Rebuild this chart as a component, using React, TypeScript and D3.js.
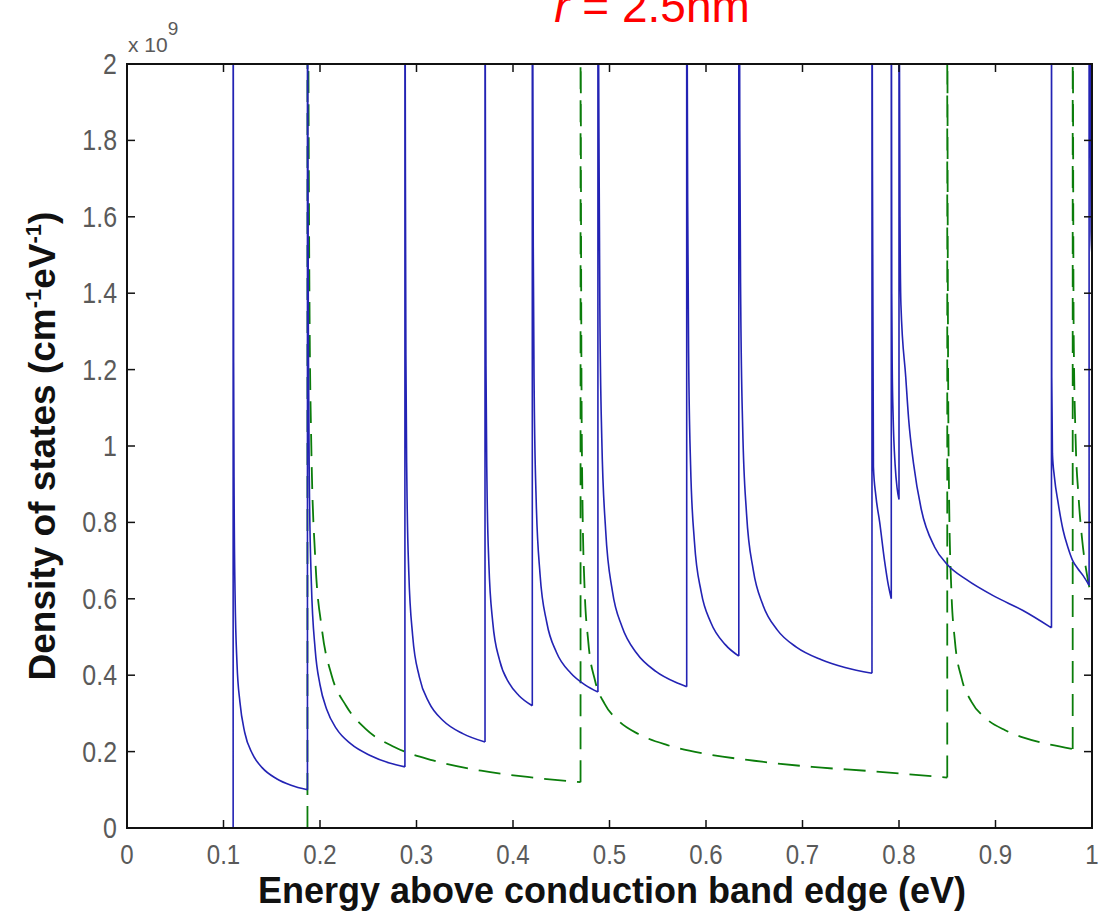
import React from "react";
import * as d3 from "d3";

// ---------- data ----------
const energyTicks = [0, 0.1, 0.2, 0.3, 0.4, 0.5, 0.6, 0.7, 0.8, 0.9, 1];
const energyTickLabels = ["0", "0.1", "0.2", "0.3", "0.4", "0.5", "0.6", "0.7", "0.8", "0.9", "1"];
const dosTicks = [0, 0.2, 0.4, 0.6, 0.8, 1, 1.2, 1.4, 1.6, 1.8, 2];
const dosTickLabels = ["0", "0.2", "0.4", "0.6", "0.8", "1", "1.2", "1.4", "1.6", "1.8", "2"];

// blue solid series (units of 1e9): flat part, then one list per subband (first point = band edge peak)
const blueFlat: [number, number][] = [[0, 0], [0.11, 0]];
const blueSub1: [number, number][] = [[0.11, 2.5], [0.1102, 1.9], [0.1105, 1.22], [0.111, 0.87], [0.112, 0.61], [0.114, 0.43], [0.117, 0.33], [0.122, 0.25], [0.13, 0.194], [0.14, 0.158], [0.155, 0.129], [0.17, 0.112], [0.187, 0.1]];
const blueSub2: [number, number][] = [[0.187, 2.5], [0.1875, 1.75], [0.188, 1.25], [0.189, 0.895], [0.191, 0.645], [0.195, 0.467], [0.2, 0.375], [0.207, 0.31], [0.217, 0.26], [0.232, 0.22], [0.252, 0.19], [0.272, 0.17], [0.288, 0.16]];
const blueSub3: [number, number][] = [[0.288, 2.5], [0.2885, 1.72], [0.289, 1.24], [0.29, 0.91], [0.292, 0.67], [0.296, 0.504], [0.303, 0.395], [0.313, 0.328], [0.328, 0.28], [0.348, 0.247], [0.371, 0.225]];
const blueSub4: [number, number][] = [[0.371, 2.5], [0.3715, 1.64], [0.372, 1.21], [0.373, 0.907], [0.375, 0.691], [0.379, 0.539], [0.386, 0.44], [0.396, 0.379], [0.406, 0.347], [0.42, 0.32]];
const blueSub5: [number, number][] = [[0.42, 2.5], [0.4205, 2.07], [0.421, 1.52], [0.422, 1.13], [0.424, 0.86], [0.428, 0.665], [0.435, 0.538], [0.445, 0.46], [0.46, 0.405], [0.475, 0.374], [0.488, 0.356]];
const blueSub6: [number, number][] = [[0.488, 2.5], [0.489, 1.84], [0.49, 1.36], [0.492, 1.02], [0.496, 0.78], [0.503, 0.62], [0.513, 0.527], [0.528, 0.458], [0.548, 0.41], [0.568, 0.382], [0.58, 0.37]];
const blueSub7: [number, number][] = [[0.58, 2.5], [0.581, 1.64], [0.582, 1.24], [0.584, 0.952], [0.588, 0.75], [0.595, 0.618], [0.605, 0.538], [0.62, 0.48], [0.634, 0.45]];
const blueSub8: [number, number][] = [[0.634, 2.5], [0.6345, 2.48], [0.635, 1.83], [0.636, 1.37], [0.638, 1.05], [0.642, 0.823], [0.649, 0.675], [0.659, 0.584], [0.674, 0.518], [0.694, 0.473], [0.719, 0.441], [0.744, 0.42], [0.772, 0.405]];
const blueSub9: [number, number][] = [[0.772, 2.5], [0.7725, 1.72], [0.7735, 0.945], [0.776, 0.87], [0.78, 0.8], [0.785, 0.7], [0.789, 0.635], [0.792, 0.6]];
const blueSub10: [number, number][] = [[0.792, 2.5], [0.7925, 1.4], [0.793, 1.2], [0.794, 1.07], [0.796, 0.95], [0.798, 0.89], [0.8, 0.86]];
const blueSub11: [number, number][] = [[0.8, 2.5], [0.8005, 2.0], [0.801, 1.6], [0.802, 1.37], [0.807, 1.18], [0.81, 1.07], [0.815, 0.955], [0.823, 0.835], [0.837, 0.735], [0.85, 0.69], [0.87, 0.65], [0.9, 0.605], [0.928, 0.57], [0.958, 0.524]];
const blueSub12: [number, number][] = [[0.958, 2.5], [0.9583, 1.18], [0.959, 0.98], [0.961, 0.92], [0.965, 0.85], [0.97, 0.78], [0.975, 0.735], [0.98, 0.7], [0.985, 0.68], [0.991, 0.66], [0.997, 0.635]];
const blueSub13: [number, number][] = [[0.997, 2.5], [0.9985, 1.9], [0.999, 1.56], [1.0, 1.5]];
const blueSubbands = [blueSub1, blueSub2, blueSub3, blueSub4, blueSub5, blueSub6, blueSub7, blueSub8, blueSub9, blueSub10, blueSub11, blueSub12, blueSub13];

// green dashed series
const greenFlat: [number, number][] = [[0, 0], [0.187, 0]];
const greenSub1: [number, number][] = [[0.187, 2.5], [0.1875, 2.4], [0.188, 2.01], [0.189, 1.42], [0.191, 1.0], [0.195, 0.71], [0.202, 0.52], [0.212, 0.4], [0.227, 0.32], [0.247, 0.26], [0.277, 0.212], [0.317, 0.177], [0.367, 0.15], [0.417, 0.133], [0.47, 0.12]];
const greenSub2: [number, number][] = [[0.47, 2.5], [0.4705, 1.6], [0.471, 1.16], [0.472, 0.857], [0.474, 0.64], [0.478, 0.488], [0.485, 0.386], [0.495, 0.325], [0.51, 0.279], [0.53, 0.246], [0.56, 0.217], [0.6, 0.194], [0.65, 0.176], [0.71, 0.16], [0.77, 0.149], [0.85, 0.132]];
const greenSub3: [number, number][] = [[0.85, 2.5], [0.8505, 1.56], [0.851, 1.14], [0.852, 0.85], [0.854, 0.64], [0.858, 0.488], [0.865, 0.391], [0.875, 0.331], [0.89, 0.287], [0.91, 0.256], [0.93, 0.236], [0.95, 0.222], [0.98, 0.207]];
const greenSub4: [number, number][] = [[0.98, 2.5], [0.981, 1.3], [0.983, 1.02], [0.986, 0.87], [0.99, 0.75], [0.995, 0.66], [1.0, 0.6]];
const greenSubbands = [greenSub1, greenSub2, greenSub3, greenSub4];

// ---------- chart ----------
const W = 1101;
const H = 913;
const L = 127, R = 1092, T = 64, B = 828;

export default function App() {
  const x = d3.scaleLinear().domain([0, 1]).range([L, R]);
  const y = d3.scaleLinear().domain([0, 2]).range([B, T]);

  const straight = d3.line<[number, number]>().x((d) => x(d[0])).y((d) => y(d[1]));
  const smooth = d3
    .line<[number, number]>()
    .x((d) => x(d[0]))
    .y((d) => y(d[1]))
    .curve(d3.curveMonotoneX);

  const buildPath = (flat: [number, number][], subs: [number, number][][]) => {
    let d = straight(flat) || "";
    let prev = flat[flat.length - 1][1];
    subs.forEach((s) => {
      const edge = s[0];
      d += straight([[edge[0], prev], [edge[0], edge[1]]]) || "";
      d += smooth(s) || "";
      prev = s[s.length - 1][1];
    });
    return d;
  };

  const bluePath = buildPath(blueFlat, blueSubbands);
  const greenPath = buildPath(greenFlat, greenSubbands);

  const tickFont = "'Liberation Sans', Arial, Helvetica, sans-serif";
  const boldFont = "'Liberation Sans', Arial, Helvetica, sans-serif";
  const tickLen = 8;
  const tickColor = "#5a5a5a";

  return (
    <svg width={W} height={H} style={{ position: "absolute", left: 0, top: 0, background: "#fff" }}>
      <defs>
        <clipPath id="plotclip">
          <rect x={L} y={T} width={R - L} height={B - T} />
        </clipPath>
      </defs>
      <rect x={0} y={0} width={W} height={H} fill="#fff" />

      {/* title (cut at the top edge, as in the reference) */}
      <text x={652} y={22} textAnchor="middle" fill="#ff0000" fontFamily={boldFont} fontSize={46}>
        <tspan fontStyle="italic">r</tspan>
        <tspan> = 2.5nm</tspan>
      </text>

      {/* exponent */}
      <text x={128} y={52} fill={tickColor} fontFamily={tickFont} fontSize={21}>
        x 10
        <tspan dy={-17} fontSize={19}>9</tspan>
      </text>

      {/* curves */}
      <g clipPath="url(#plotclip)">
        <path d={greenPath} fill="none" stroke="#0b7d0b" strokeWidth={1.8} strokeDasharray="22,11" />
        <path d={bluePath} fill="none" stroke="#2323b4" strokeWidth={1.6} />
      </g>

      {/* axes box */}
      <rect x={L} y={T} width={R - L} height={B - T} fill="none" stroke="#111" strokeWidth={2} />

      {/* x ticks */}
      {energyTicks.map((t, i) => (
        <g key={"xt" + i}>
          <line x1={x(t)} x2={x(t)} y1={B} y2={B - tickLen} stroke="#111" strokeWidth={1.5} />
          <line x1={x(t)} x2={x(t)} y1={T} y2={T + tickLen} stroke="#111" strokeWidth={1.5} />
          <text
            transform={`translate(${x(t)}, 864) scale(0.86, 1)`}
            textAnchor="middle"
            fill={tickColor}
            fontFamily={tickFont}
            fontSize={28}
          >
            {energyTickLabels[i]}
          </text>
        </g>
      ))}

      {/* y ticks */}
      {dosTicks.map((t, i) => (
        <g key={"yt" + i}>
          <line x1={L} x2={L + tickLen} y1={y(t)} y2={y(t)} stroke="#111" strokeWidth={1.5} />
          <line x1={R} x2={R - tickLen} y1={y(t)} y2={y(t)} stroke="#111" strokeWidth={1.5} />
          <text
            transform={`translate(117, ${y(t) + 10}) scale(0.86, 1)`}
            textAnchor="end"
            fill={tickColor}
            fontFamily={tickFont}
            fontSize={29}
          >
            {dosTickLabels[i]}
          </text>
        </g>
      ))}

      {/* axis titles */}
      <text x={612} y={903} textAnchor="middle" fontFamily={boldFont} fontWeight="bold" fontSize={36} fill="#111">
        Energy above conduction band edge (eV)
      </text>
      <text
        transform={`translate(55, ${(T + B) / 2}) rotate(-90)`}
        textAnchor="middle"
        fontFamily={boldFont}
        fontWeight="bold"
        fontSize={37}
        fill="#111"
      >
        Density of states (cm
        <tspan dy={-14} fontSize={22}>-1</tspan>
        <tspan dy={14}>eV</tspan>
        <tspan dy={-14} fontSize={22}>-1</tspan>
        <tspan dy={14}>)</tspan>
      </text>
    </svg>
  );
}
